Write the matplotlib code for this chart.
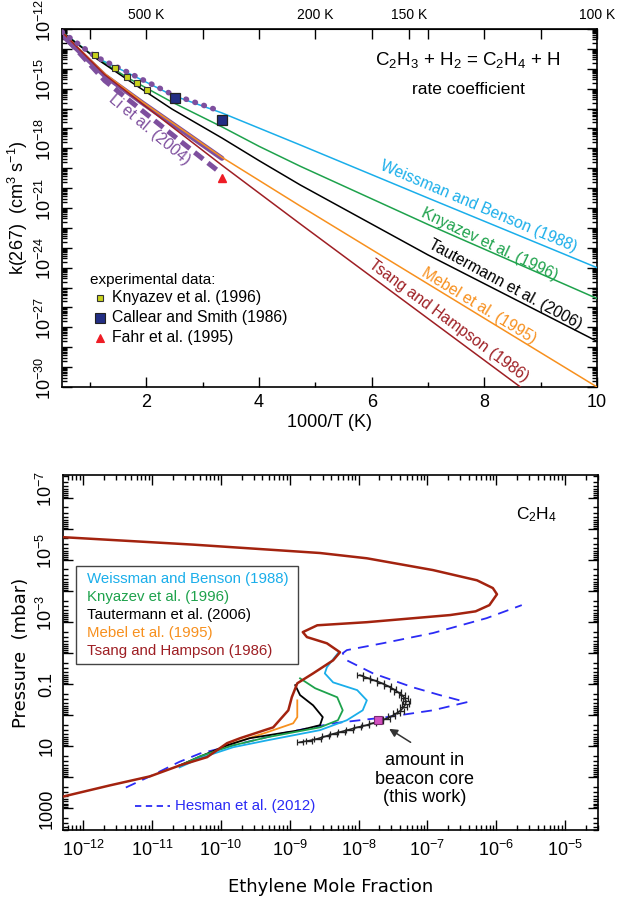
import numpy as np
import matplotlib.pyplot as plt
import matplotlib.transforms as mtransforms
from matplotlib.ticker import FixedLocator, NullFormatter, FuncFormatter
from matplotlib.patches import Rectangle

plt.rcParams['font.family'] = 'Liberation Sans'
plt.rcParams['mathtext.fontset'] = 'custom'
plt.rcParams['mathtext.rm'] = 'Liberation Sans'
plt.rcParams['mathtext.it'] = 'Liberation Sans:italic'
plt.rcParams['mathtext.bf'] = 'Liberation Sans:bold'

# --- colours ---
c_wb = '#1aaeea'
c_kny = '#1ea24c'
c_taut = 'black'
c_mebel = '#f7901e'
c_tsang = '#9e1f24'
c_li = '#7e4f9e'
c_hes = '#2b2bf5'

# --- top panel: rate coefficients, x = 1000/T, log10 k ---
x_wb = [0.5, 1.09, 1.67, 2.45, 3.34, 4.73, 7.0, 10.0]
logk_wb = [-12.15, -13.41, -14.21, -15.32, -16.22, -17.83, -20.5, -24.0]
x_kny = [0.5, 1.09, 1.67, 2.45, 3.34, 4.0, 4.73, 7.0, 10.0]
logk_kny = [-12.15, -13.42, -14.46, -15.67, -16.92, -17.9, -18.9, -21.83, -25.55]
x_taut = [0.5, 1.09, 1.67, 2.45, 3.34, 4.0, 4.73, 7.0, 10.0]
logk_taut = [-12.15, -13.45, -14.56, -16.02, -17.48, -18.62, -19.84, -23.36, -27.7]
x_mebel = [0.5, 1.26, 1.92, 2.63, 3.34, 4.73, 10.0]
logk_mebel = [-12.15, -14.25, -15.65, -17.05, -18.45, -20.9, -30.0]
x_tsang = [0.5, 1.26, 1.92, 2.63, 3.34, 4.73, 8.64]
logk_tsang = [-12.15, -14.3, -15.75, -17.3, -18.85, -21.8, -30.0]

x_li = [0.5, 1.26, 1.92, 2.63, 3.34]
logk_li = [-12.3, -14.35, -15.7, -17.1, -18.5]
x_li_dash = [0.6, 1.26, 1.92, 2.63, 3.3]
logk_li_dash = [-12.55, -14.6, -16.1, -17.7, -19.2]
x_li_dot = [0.5, 1.09, 1.67, 2.45, 3.3]
logk_li_dot = [-12.15, -13.38, -14.18, -15.28, -16.12]

x_exp_kny = [1.09, 1.44, 1.65, 1.83, 2.01]
logk_exp_kny = [-13.31, -13.96, -14.41, -14.71, -15.07]
x_exp_cs = [2.5, 3.34]
logk_exp_cs = [-15.47, -16.57]
x_exp_fahr = [3.34]
logk_exp_fahr = [-19.49]

top_tick_pos = [2, 5, 1000 / 150, 10]
top_tick_lab = ['500 K', '200 K', '150 K', '100 K']
top_minor_pos = [1, 3, 4, 6, 7, 8, 9]

# --- bottom panel: C2H4 profiles, log10 mole fraction vs log10 pressure (mbar) ---
lx_tsang = [-12.29, -11.61, -11.03, -10.6, -10.2, -9.91, -9.72, -9.24, -9.02, -8.97, -8.89,
            -8.66, -8.37, -8.27, -8.46, -8.75, -8.81, -8.6, -7.88, -6.67, -6.3, -6.1, -5.99,
            -6.05, -6.28, -6.92, -7.88, -8.56, -10.4, -12.29]
lp_tsang = [2.62, 2.26, 1.97, 1.62, 1.35, 0.9, 0.74, 0.39, -0.16, -0.58, -1.03,
            -1.35, -1.77, -2.03, -2.32, -2.52, -2.68, -2.9, -3.0, -3.23, -3.35, -3.55, -3.9,
            -4.1, -4.35, -4.68, -5.06, -5.23, -5.5, -5.74]
lx_wb = [-10.6, -10.3, -9.82, -9.33, -8.56, -8.17, -7.94, -7.88, -8.02, -8.37, -8.49, -8.46, -8.3]
lp_wb = [1.68, 1.38, 1.03, 0.81, 0.48, 0.16, -0.16, -0.48, -0.81, -1.06, -1.35, -1.55, -2.0]
lx_kny = [-10.6, -10.3, -9.82, -9.33, -8.56, -8.3, -8.23, -8.31, -8.63, -8.85]
lp_kny = [1.63, 1.32, 0.97, 0.71, 0.39, 0.16, -0.16, -0.58, -0.87, -1.19]
lx_taut = [-10.6, -10.3, -9.91, -9.58, -8.85, -8.56, -8.52, -8.66, -8.85, -8.92]
lp_taut = [1.62, 1.33, 0.97, 0.74, 0.48, 0.32, 0.06, -0.32, -0.65, -0.97]
lx_mebel = [-10.6, -10.3, -9.82, -9.33, -8.95, -8.89, -8.89]
lp_mebel = [1.62, 1.34, 0.9, 0.55, 0.26, 0.06, -0.48]
lx_hes = [-11.38, -11.03, -10.6, -10.3, -9.82, -9.1, -8.37, -7.59, -6.92, -6.43, -6.82,
          -7.21, -7.79, -8.17, -8.23, -8.17, -7.65, -6.92, -6.14, -5.63]
lp_hes = [2.33, 1.97, 1.5, 1.23, 0.97, 0.58, 0.26, 0.06, -0.16, -0.42, -0.65,
          -0.9, -1.35, -1.77, -2.0, -2.1, -2.32, -2.65, -3.13, -3.55]

lx_obs = [-8.85, -8.72, -8.6, -8.48, -8.37, -8.25, -8.13, -8.02, -7.9, -7.8, -7.7, -7.6,
          -7.52, -7.45, -7.39, -7.35, -7.32, -7.31, -7.33, -7.37, -7.43, -7.5, -7.58,
          -7.68, -7.78, -7.88, -7.98]
lp_obs = [0.87, 0.82, 0.76, 0.68, 0.6, 0.53, 0.46, 0.39, 0.33, 0.26, 0.19, 0.11,
          0.03, -0.06, -0.15, -0.25, -0.35, -0.45, -0.55, -0.65, -0.75, -0.85, -0.95,
          -1.05, -1.13, -1.21, -1.29]
obs_err_dex = 0.05
lx_core, lp_core = -7.72, 0.16

legend_names = ['Weissman and Benson (1988)', 'Knyazev et al. (1996)', 'Tautermann et al. (2006)',
                'Mebel et al. (1995)', 'Tsang and Hampson (1986)']
legend_cols = [c_wb, c_kny, c_taut, c_mebel, c_tsang]


def p10(v):
    return 10.0 ** np.asarray(v)


fig = plt.figure(figsize=(6.17, 9.0), dpi=100)
ax1 = fig.add_axes([62 / 617, 1 - 387 / 900, 535 / 617, 358 / 900])
ax2 = fig.add_axes([63 / 617, 1 - 830 / 900, 535 / 617, 355 / 900])

# ================= TOP PANEL =================
ax1.set_yscale('log')
lw = 1.1
ax1.plot(x_li, p10(logk_li), color=c_li, lw=3.6, solid_capstyle='round', zorder=2)
ax1.plot(x_li_dash, p10(logk_li_dash), color=c_li, lw=3.6, dashes=(2.2, 1.2), zorder=2)
ax1.plot(x_wb, p10(logk_wb), color=c_wb, lw=lw, zorder=3)
ax1.plot(x_kny, p10(logk_kny), color=c_kny, lw=lw, zorder=3)
ax1.plot(x_taut, p10(logk_taut), color=c_taut, lw=lw, zorder=3)
ax1.plot(x_mebel, p10(logk_mebel), color=c_mebel, lw=lw, zorder=3)
ax1.plot(x_tsang, p10(logk_tsang), color=c_tsang, lw=lw, zorder=3)
ax1.plot(x_li_dot, p10(logk_li_dot), color=c_li, lw=4.0, dashes=(0.1, 1.6),
         dash_capstyle='round', zorder=4)

ax1.plot(x_exp_kny, p10(logk_exp_kny), 's', ms=4, mfc='#c9d21c', mec='#333', mew=0.8, zorder=5)
ax1.plot(x_exp_cs, p10(logk_exp_cs), 's', ms=7, mfc='#232e84', mec='#222', mew=0.9, zorder=5)
ax1.plot(x_exp_fahr, p10(logk_exp_fahr), '^', ms=6, color='#ee1c25', zorder=5)

ax1.set_xlim(0.5, 10)
ax1.set_ylim(1e-30, 1e-12)

ax1.xaxis.set_major_locator(FixedLocator([2, 4, 6, 8, 10]))
ax1.xaxis.set_minor_locator(FixedLocator([1, 3, 5, 7, 9]))
ax1.yaxis.set_major_locator(FixedLocator(10.0 ** np.arange(-30, -11)))
ax1.yaxis.set_minor_locator(FixedLocator([m * 10.0 ** e for e in range(-30, -12) for m in range(2, 10)]))
ax1.yaxis.set_major_formatter(NullFormatter())
ax1.yaxis.set_minor_formatter(NullFormatter())
ax1.tick_params(which='both', direction='in', top=False, right=True, width=1)
ax1.tick_params(which='major', length=7, labelsize=13, pad=5)
ax1.tick_params(which='minor', length=3.5)

ytrans1 = mtransforms.blended_transform_factory(ax1.transAxes, ax1.transData)
for e in range(-30, -11, 3):
    ax1.text(-0.014, 10.0 ** (e + 0.45), r'$10^{%d}$' % e, transform=ytrans1,
             rotation=90, ha='right', va='center', fontsize=13)

sec = ax1.secondary_xaxis('top')
sec.set_xticks(top_tick_pos, top_tick_lab)
sec.xaxis.set_minor_locator(FixedLocator(top_minor_pos))
sec.tick_params(which='both', direction='in', width=1)
sec.tick_params(which='major', length=7, labelsize=10, pad=5)
sec.tick_params(which='minor', length=7)

ax1.set_xlabel('1000/T (K)', fontsize=13)
ax1.xaxis.set_label_coords(0.5, -0.075)
ax1.set_ylabel(r'k(267)  (cm$^3$ s$^{-1}$)', fontsize=13)
ax1.yaxis.set_label_coords(-0.06, 0.5)
for sp in ax1.spines.values():
    sp.set_linewidth(1.2)

ax1.text(0.759, 0.913, r'C$_2$H$_3$ + H$_2$ = C$_2$H$_4$ + H', transform=ax1.transAxes,
         ha='center', va='center', fontsize=13.5)
ax1.text(0.759, 0.830, 'rate coefficient', transform=ax1.transAxes,
         ha='center', va='center', fontsize=12.5)

curve_lab = [
    ('Weissman and Benson (1988)', c_wb, 7.89, -20.94, -23),
    ('Knyazev et al. (1996)', c_kny, 8.10, -22.85, -25.5),
    ('Tautermann et al. (2006)', c_taut, 8.37, -24.86, -28.5),
    ('Mebel et al. (1995)', c_mebel, 7.91, -25.92, -31.5),
    ('Tsang and Hampson (1986)', c_tsang, 7.36, -26.67, -36.5),
    ('Li et al. (2004)', c_li, 2.05, -17.08, -40),
]
for txt, col, xx, ly, rot in curve_lab:
    ax1.text(xx, 10.0 ** ly, txt, color=col, fontsize=11.3, rotation=rot,
             rotation_mode='anchor', ha='center', va='center')

ax1.text(0.052, 0.299, 'experimental data:', transform=ax1.transAxes, fontsize=11,
         ha='left', va='center')
exp_rows = [('Knyazev et al. (1996)', 's', 4, '#c9d21c', '#333'),
            ('Callear and Smith (1986)', 's', 7, '#232e84', '#222'),
            ('Fahr et al. (1995)', '^', 6, '#ee1c25', '#ee1c25')]
for i, (txt, mk, ms, fc, ec) in enumerate(exp_rows):
    yy = 0.249 - i * 0.056
    ax1.plot([0.071], [yy], mk, ms=ms, mfc=fc, mec=ec, mew=0.8, transform=ax1.transAxes,
             clip_on=False)
    ax1.text(0.093, yy, txt, transform=ax1.transAxes, fontsize=11.3, ha='left', va='center')

# ================= BOTTOM PANEL =================
ax2.set_xscale('log')
ax2.set_yscale('log')
ax2.plot(p10(lx_hes), p10(lp_hes), color=c_hes, lw=1.3, dashes=(6, 4), zorder=2)
ax2.plot(p10(lx_mebel), p10(lp_mebel), color=c_mebel, lw=1.3, zorder=3)
ax2.plot(p10(lx_taut), p10(lp_taut), color=c_taut, lw=1.3, zorder=3)
ax2.plot(p10(lx_kny), p10(lp_kny), color=c_kny, lw=1.3, zorder=3)
ax2.plot(p10(lx_wb), p10(lp_wb), color=c_wb, lw=1.3, zorder=3)
ax2.plot(p10(lx_tsang), p10(lp_tsang), color='#a3230f', lw=1.8, zorder=4)

xo = p10(lx_obs)
err_lo = xo - p10(np.asarray(lx_obs) - obs_err_dex)
err_hi = p10(np.asarray(lx_obs) + obs_err_dex) - xo
ax2.errorbar(xo, p10(lp_obs), xerr=[err_lo, err_hi], fmt='-', color='#222', lw=1.2,
             elinewidth=1.0, capsize=2.5, capthick=0.9, zorder=5)
ax2.plot([10.0 ** lx_core], [10.0 ** lp_core], 's', ms=5.5, mfc='#d24fc0', mec='#7a2a70',
         mew=0.8, zorder=6)

ax2.set_xlim(5.1e-13, 3.0e-5)
ax2.set_ylim(5.0e3, 1.8e-8)

ax2.xaxis.set_major_locator(FixedLocator(10.0 ** np.arange(-12, -4)))
ax2.xaxis.set_minor_locator(FixedLocator([m * 10.0 ** e for e in range(-13, -4) for m in range(2, 10)]))
ax2.xaxis.set_minor_formatter(NullFormatter())
ax2.xaxis.set_major_formatter(FuncFormatter(lambda v, p: r'$10^{%d}$' % round(np.log10(v))))
ax2.yaxis.set_major_locator(FixedLocator(10.0 ** np.arange(-7, 4)))
ax2.yaxis.set_minor_locator(FixedLocator([m * 10.0 ** e for e in range(-8, 4) for m in range(2, 10)]))
ax2.yaxis.set_major_formatter(NullFormatter())
ax2.yaxis.set_minor_formatter(NullFormatter())
ax2.tick_params(which='both', direction='in', top=True, right=True, width=1)
ax2.tick_params(which='major', length=7, labelsize=13, pad=7)
ax2.tick_params(which='minor', length=3.5)

ytrans2 = mtransforms.blended_transform_factory(ax2.transAxes, ax2.transData)
ylab2 = [(-7, r'$10^{-7}$', 0.3), (-5, r'$10^{-5}$', 0.3), (-3, r'$10^{-3}$', 0.3),
         (-1, '0.1', 0.0), (1, '10', 0.0), (3, '1000', 0.0)]
for e, txt, off in ylab2:
    ax2.text(-0.014, 10.0 ** (e - off), txt, transform=ytrans2, rotation=90,
             ha='right', va='center', fontsize=13)

ax2.set_xlabel('Ethylene Mole Fraction', fontsize=13, family='DejaVu Sans')
ax2.xaxis.set_label_coords(0.5, -0.135)
ax2.set_ylabel('Pressure  (mbar)', fontsize=13, family='DejaVu Sans')
ax2.yaxis.set_label_coords(-0.062, 0.5)
for sp in ax2.spines.values():
    sp.set_linewidth(1.2)

ax2.text(0.886, 0.887, r'C$_2$H$_4$', transform=ax2.transAxes, ha='center', va='center',
         fontsize=12.5)

ax2.add_patch(Rectangle((0.024, 0.468), 0.415, 0.276, transform=ax2.transAxes,
                        fill=True, facecolor='white', edgecolor='#444', lw=1.0, zorder=6))
for i, (name, col) in enumerate(zip(legend_names, legend_cols)):
    ax2.text(0.045, 0.707 - i * 0.0508, name, color=col, transform=ax2.transAxes,
             fontsize=10.8, ha='left', va='center', zorder=7)

ax2.plot([0.135, 0.200], [0.068, 0.068], color=c_hes, lw=1.3, dashes=(3.5, 2.5),
         transform=ax2.transAxes)
ax2.text(0.209, 0.068, 'Hesman et al. (2012)', color=c_hes, transform=ax2.transAxes,
         fontsize=10.8, ha='left', va='center')

ax2.annotate('', xy=(10.0 ** -7.59, 10.0 ** 0.39), xytext=(10.0 ** -7.21, 10.0 ** 0.92),
             arrowprops=dict(arrowstyle='-|>', color='#333', lw=1.1, mutation_scale=12))
ax2.text(10.0 ** -7.04, 10.0 ** 2.06, 'amount in\nbeacon core\n(this work)', ha='center',
         va='center', fontsize=13, linespacing=1.12)

fig.savefig('out.png', dpi=100)
